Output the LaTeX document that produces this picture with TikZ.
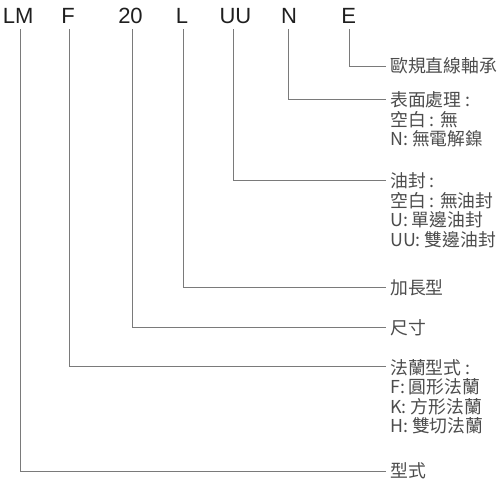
\documentclass[tikz,border=0pt]{standalone}
\usepackage{fontspec}
\setmainfont{Liberation Sans}
\newfontfamily\cjk{Noto Sans CJK TC}
\begin{document}
\begin{tikzpicture}[x=1pt,y=-1pt,
  code/.style={anchor=base,inner sep=0pt,font=\fontsize{22}{24}\selectfont,text=black!88},
  lbl/.style={anchor=west,inner xsep=4.5pt,inner ysep=0pt,font=\cjk\fontsize{17.8}{19}\selectfont,text=black!70},
  conn/.style={draw=black!52,line width=1pt}]
\useasboundingbox (0,0) rectangle (503,485);
% code letters
\node[code] (LM) at (18.2,23.3) {LM};
\node[code] (F)  at (68,23.3) {F};
\node[code] (S)  at (130.5,23.3) {20};
\node[code] (L)  at (182,23.3) {L};
\node[code] (UU) at (235.5,23.3) {UU};
\node[code] (N)  at (289,23.3) {N};
\node[code] (E)  at (348.7,23.3) {E};
% labels
\node[lbl] (tE) at (385.5,66) {歐規直線軸承};
\node[lbl] (tN) at (385.5,100) {表面處理 :};
\node[lbl] (tN2) at (385.5,119.5) {空白 : 無};
\node[lbl] (tN3) at (385.5,139) {N: 無電解鎳};
\node[lbl] (tU) at (385.5,181) {油封 :};
\node[lbl] (tU2) at (385.5,200.5) {空白 : 無油封};
\node[lbl] (tU3) at (385.5,220) {U: 單邊油封};
\node[lbl] (tU4) at (385.5,239.5) {UU: 雙邊油封};
\node[lbl] (tL) at (385.5,288) {加長型};
\node[lbl] (tS) at (385.5,327.5) {尺寸};
\node[lbl] (tF) at (385.5,367.5) {法蘭型式 :};
\node[lbl] (tF2) at (385.5,387) {F: 圓形法蘭};
\node[lbl] (tF3) at (385.5,406.5) {K: 方形法蘭};
\node[lbl] (tF4) at (385.5,426) {H: 雙切法蘭};
\node[lbl] (tLM) at (385.5,471) {型式};
% connectors
\draw[conn] ([shift={(0.3,6)}]E.base) |- ([yshift=-0.5pt]tE.west);
\draw[conn] ([shift={(-1,6)}]N.base) |- ([yshift=1pt]tN.west);
\draw[conn] ([shift={(-2.5,6)}]UU.base) |- ([yshift=1pt]tU.west);
\draw[conn] ([shift={(1,6)}]L.base) |- ([yshift=1pt]tL.west);
\draw[conn] ([shift={(1.5,6)}]S.base) |- (tS.west);
\draw[conn] ([shift={(1.3,6)}]F.base) |- ([yshift=1pt]tF.west);
\draw[conn] ([shift={(1.8,6)}]LM.base) |- (tLM.west);
\end{tikzpicture}
\end{document}
